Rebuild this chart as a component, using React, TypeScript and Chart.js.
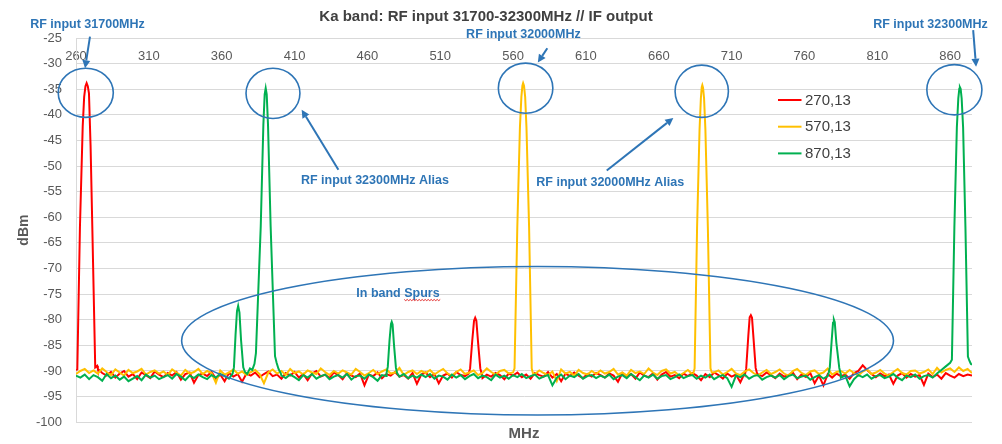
import React, { useEffect, useRef } from "react";
import { Chart, registerables } from "chart.js";

Chart.register(...registerables);

const FONT = '"Liberation Sans", Arial, sans-serif';

// ---------- data ----------
const chartTitle = "Ka band: RF input 31700-32300MHz // IF output";
const xAxisTitle = "MHz";
const yAxisTitle = "dBm";
const xMin = 260;
const xMax = 875;
const yMin = -100;
const yMax = -25;
const yStep = 5;
const xTickValues = [260, 310, 360, 410, 460, 510, 560, 610, 660, 710, 760, 810, 860];

const seriesLabels = ["270,13", "570,13", "870,13"];
const seriesColors = ["#FF0000", "#FFC000", "#00B050"];

// noise floor samples, every 3 MHz from 260 MHz
const noiseStartMHz = 260;
const noiseStepMHz = 3;

const redNoise = [
  -89.8, -90.5, -90.5, -90.5, -90.5, -89.6, -90.4, -90.9, -90.2, -91.3, -90.5, -90.0, -91.1, -90.6, -91.6, -90.3, -90.8, -91.4, -90.1, -90.7,
  -91.2, -90.4, -90.9, -90.2, -91.7, -90.6, -90.3, -92.3, -90.8, -90.5, -91.0, -90.2, -91.5, -90.7, -92.0, -90.4, -91.1, -90.6, -92.1, -90.5,
  -90.9, -90.3, -91.2, -90.6, -90.1, -91.0, -90.7, -91.5, -90.4, -90.9, -90.2, -91.3, -90.6, -91.8, -90.5, -90.0, -91.1, -90.7, -91.4, -90.3,
  -90.8, -91.6, -90.4, -90.9, -91.2, -90.5, -92.8, -90.7, -91.0, -90.3, -91.4, -90.6, -90.9, -90.2, -91.1, -90.8, -91.5, -90.4, -92.5, -90.7,
  -90.3, -91.2, -90.6, -92.4, -90.9, -90.5, -91.3, -90.2, -90.8, -91.0, -90.5, -90.9, -90.3, -91.4, -90.7, -91.1, -90.4, -90.8, -91.6, -90.5,
  -90.9, -90.3, -91.2, -90.7, -91.5, -90.4, -90.8, -91.1, -90.2, -91.3, -90.6, -92.0, -90.5, -91.0, -90.3, -90.9, -91.4, -90.6, -91.1, -90.4,
  -90.8, -91.3, -90.5, -90.9, -92.1, -90.4, -91.0, -90.6, -91.5, -90.3, -90.9, -91.2, -90.5, -91.7, -90.7, -90.2, -91.1, -90.8, -91.4, -90.5,
  -91.0, -90.4, -90.9, -91.8, -90.6, -91.2, -90.3, -90.8, -91.5, -90.5, -91.1, -90.7, -92.2, -90.4, -90.9, -91.3, -90.6, -91.0, -90.3, -90.8,
  -91.4, -90.5, -91.1, -90.8, -90.3, -91.6, -90.7, -91.2, -90.4, -92.4, -90.9, -92.8, -90.6, -91.3, -90.5, -91.0, -90.7, -91.5, -90.4, -90.0,
  -88.9, -89.8, -90.6, -91.2, -90.5, -91.0, -90.7, -92.5, -90.9, -90.4, -91.3, -90.6, -91.1, -90.8, -92.7, -90.5, -91.2, -90.7, -91.5, -90.4,
  -90.9, -91.3, -90.6, -91.0, -90.7, -90.9,
];

const yellowNoise = [
  -90.6, -90.0, -89.6, -90.4, -89.9, -90.5, -89.5, -90.2, -90.8, -89.7, -90.3, -90.9, -89.8, -90.4, -90.1, -89.6, -90.7, -90.2, -89.9, -90.5,
  -90.1, -90.8, -89.7, -90.3, -90.9, -89.8, -90.5, -90.2, -89.6, -90.6, -90.0, -90.4, -92.3, -89.9, -90.7, -90.3, -89.7, -90.5, -90.1, -90.8,
  -90.2, -89.8, -90.6, -92.4, -90.3, -89.7, -90.5, -90.0, -90.8, -89.6, -90.4, -90.1, -90.7, -89.9, -90.3, -90.6, -89.5, -90.2, -90.8, -90.0,
  -90.5, -89.9, -90.3, -90.7, -89.6, -90.2, -90.9, -90.4, -89.8, -90.6, -90.1, -89.7, -90.5, -90.3, -89.4, -90.8, -90.2, -89.9, -90.6, -90.0,
  -90.4, -89.8, -90.7, -90.1, -89.6, -90.5, -90.9, -90.2, -89.7, -90.6, -90.3, -89.9, -90.8, -90.4, -89.5, -90.2, -90.7, -90.0, -89.8, -90.5,
  -90.3, -90.5, -90.5, -90.5, -90.5, -90.6, -89.9, -90.4, -90.8, -90.1, -92.0, -89.7, -90.5, -90.2, -90.9, -89.8, -90.4, -90.7, -90.0, -90.6,
  -89.9, -90.5, -90.2, -89.6, -90.7, -90.3, -90.9, -89.8, -90.4, -90.1, -90.6, -89.5, -90.3, -90.8, -90.0, -89.7, -90.5, -90.2, -90.9, -90.4,
  -89.8, -90.6, -90.5, -90.5, -90.5, -90.5, -90.3, -89.9, -90.7, -90.2, -89.6, -90.5, -90.8, -90.1, -89.7, -90.4, -90.9, -90.3, -89.8, -90.6,
  -90.2, -89.7, -90.5, -90.9, -90.0, -89.6, -90.4, -90.8, -90.1, -89.9, -90.6, -90.3, -89.5, -90.7, -90.2, -90.0, -90.5, -89.8, -90.4, -90.9,
  -90.1, -89.7, -90.6, -90.3, -89.8, -90.5, -90.9, -90.2, -89.6, -90.4, -90.7, -90.0, -89.9, -90.5, -90.2, -89.7, -90.6, -89.4, -90.3, -89.8,
  -89.5, -90.2, -89.3, -90.0, -89.6, -90.4,
];

const greenNoise = [
  -90.9, -91.3, -90.7, -91.6, -90.8, -91.2, -91.9, -90.6, -91.4, -90.9, -91.7, -91.1, -92.0, -91.5, -91.0, -91.8, -90.7, -91.3, -90.9, -91.6,
  -91.2, -90.8, -91.5, -90.6, -91.1, -91.8, -90.9, -91.4, -90.7, -91.2, -91.6, -90.8, -91.3, -90.6, -91.0, -91.5, -90.8, -90.5, -90.5, -90.6,
  -90.5, -90.5, -90.5, -90.5, -90.5, -90.5, -90.5, -90.9, -91.4, -90.7, -91.2, -91.8, -90.8, -91.3, -90.6, -91.5, -91.0, -90.7, -91.6, -91.1,
  -90.8, -91.3, -90.6, -91.7, -91.0, -90.9, -91.5, -90.7, -91.2, -91.9, -90.8, -91.0, -90.5, -90.5, -91.1, -90.6, -91.4, -90.9, -91.3, -90.7,
  -91.2, -90.6, -91.5, -90.9, -91.1, -91.7, -90.7, -91.3, -90.8, -91.6, -91.0, -90.6, -91.4, -90.9, -91.2, -91.8, -90.7, -91.3, -90.9, -91.5,
  -90.8, -91.2, -90.6, -91.4, -91.0, -90.7, -91.5, -91.1, -90.8, -92.8, -91.3, -90.7, -91.6, -90.9, -91.2, -90.6, -91.5, -91.0, -90.8, -91.4,
  -90.9, -91.3, -90.7, -91.6, -91.1, -90.8, -91.4, -90.6, -91.2, -91.8, -90.9, -91.3, -90.7, -91.5, -91.0, -90.8, -91.6, -91.2, -90.7, -91.4,
  -91.0, -90.8, -91.5, -90.9, -91.3, -90.7, -91.6, -91.1, -90.8, -91.4, -93.1, -90.9, -91.2, -90.7, -91.5, -91.0, -90.8, -91.7, -91.2, -90.9,
  -91.3, -90.8, -91.6, -91.0, -90.7, -91.4, -91.1, -90.9, -91.7, -91.2, -90.8, -91.5, -91.0, -90.5, -90.5, -91.3, -90.9, -93.0, -91.6, -90.8,
  -91.2, -90.7, -91.5, -91.0, -90.8, -91.4, -91.1, -90.6, -91.3, -91.8, -90.9, -91.2, -90.7, -91.5, -91.0, -90.8, -91.3, -90.5, -89.8, -89.1,
  -88.4, -88.5, -88.5, -88.5, -88.5, -88.8,
];

// peaks: [MHz, dBm]
const redPeakMain = [
  [260.9, -89.7], [262.7, -62.0], [264.6, -42.3], [265.6, -36.5], [266.5, -34.4], [267.3, -33.8],
  [268.1, -34.4], [268.9, -35.8], [270.0, -46.0], [271.2, -62.0], [273.2, -89.3], [274.5, -89.0],
];
const redSpurA = [
  [529.5, -90.5], [530.5, -89.5], [532.0, -84.0], [533.2, -80.2], [534.0, -79.6], [534.8, -80.2],
  [536.0, -84.5], [537.5, -89.5], [538.5, -90.6],
];
const redSpurB = [
  [719.2, -90.6], [720.0, -89.6], [721.5, -83.0], [722.4, -79.5], [723.2, -79.1], [724.0, -79.6],
  [725.0, -83.5], [726.5, -89.4], [727.5, -90.5],
];
const yellowPeakA = [
  [560.6, -90.3], [561.0, -89.5], [562.9, -62.0], [564.7, -42.5], [565.7, -36.5], [566.4, -34.3], [566.9, -33.8],
  [567.5, -34.3], [568.3, -36.5], [569.2, -42.5], [571.0, -62.0], [572.8, -89.5], [573.6, -90.4],
];
const yellowPeakB = [
  [683.8, -90.4], [684.6, -89.5], [686.3, -62.0], [688.0, -42.8], [688.9, -36.8], [689.5, -34.6], [689.9, -34.2],
  [690.4, -34.7], [691.1, -36.8], [692.0, -42.8], [693.7, -62.0], [695.5, -89.5], [696.4, -90.3],
];
const greenAliasWithSpur = [
  [367.5, -90.5], [368.4, -89.3], [369.5, -83.0], [370.5, -78.3], [371.3, -77.3], [372.2, -78.6],
  [373.3, -84.0], [374.8, -89.3], [376.0, -90.2], [377.5, -90.6], [379.4, -89.5], [381.0, -89.8],
  [382.5, -88.6], [383.5, -86.5], [386.8, -61.8], [388.6, -42.0], [389.5, -36.0], [390.2, -34.8],
  [390.9, -36.0], [391.8, -42.0], [393.6, -61.8], [396.6, -87.1], [397.7, -88.4], [399.0, -89.6], [400.5, -90.4],
];
const greenSpurA = [
  [473.2, -90.3], [474.0, -89.2], [475.2, -84.0], [476.2, -80.8], [476.7, -80.4], [477.3, -80.9],
  [478.3, -85.0], [479.6, -89.4], [480.4, -90.4],
];
const greenSpurB = [
  [776.6, -90.4], [777.4, -89.3], [778.7, -84.0], [779.6, -80.6], [780.2, -80.0], [780.8, -80.5],
  [781.9, -84.5], [783.9, -89.4], [784.8, -90.5],
];
const greenPeakMain = [
  [861.2, -87.8], [862.9, -62.0], [864.6, -42.5], [865.6, -36.8], [866.3, -34.9], [866.7, -34.6],
  [867.2, -34.9], [867.9, -36.8], [868.9, -42.5], [870.5, -62.0], [872.2, -87.2], [873.2, -88.0], [874.2, -88.6],
];

// ---------- annotations (data coordinates) ----------
const noteBlue = "#2E75B6";
const circleNotes = [
  { f: 266.7, db: -35.7, rf: 18.9, rdb: 4.8 },
  { f: 395.2, db: -35.8, rf: 18.5, rdb: 4.9 },
  { f: 568.6, db: -34.8, rf: 18.7, rdb: 4.9 },
  { f: 689.5, db: -35.4, rf: 18.3, rdb: 5.1 },
  { f: 862.9, db: -35.1, rf: 18.9, rdb: 4.9 },
  { f: 576.8, db: -84.1, rf: 244.3, rdb: 14.5 },
];
const arrowNotes = [
  { f1: 269.6, db1: -24.75, f2: 266.2, db2: -30.9 },
  { f1: 440.1, db1: -50.7, f2: 414.9, db2: -39.0 },
  { f1: 583.5, db1: -27.0, f2: 577.0, db2: -29.8 },
  { f1: 624.3, db1: -50.85, f2: 670.0, db2: -40.6 },
  { f1: 875.8, db1: -23.45, f2: 877.8, db2: -30.6 },
];
const textNotes = [
  { text: "RF input 31700MHz", f: 267.9, db: -22.47, squiggle: "" },
  { text: "RF input 32000MHz", f: 567.1, db: -24.42, squiggle: "" },
  { text: "RF input 32300MHz", f: 846.5, db: -22.47, squiggle: "" },
  { text: "RF input 32300MHz Alias", f: 465.2, db: -52.8, squiggle: "" },
  { text: "RF input 32000MHz Alias", f: 626.7, db: -53.2, squiggle: "" },
  { text: "In band Spurs", f: 481.0, db: -74.87, squiggle: "Spurs" },
];

function buildSeries(noise: number[], peaks: number[][][]) {
  const pts: { x: number; y: number }[] = [];
  noise.forEach((v, i) => {
    const f = noiseStartMHz + i * noiseStepMHz;
    const inside = peaks.some((p) => f >= p[0][0] && f <= p[p.length - 1][0]);
    if (!inside) pts.push({ x: f, y: v });
  });
  peaks.forEach((p) => p.forEach(([f, v]) => pts.push({ x: f, y: v })));
  pts.sort((a, b) => a.x - b.x);
  return pts;
}

const notesPlugin = {
  id: "notes",
  afterDraw(chart: any) {
    const ctx = chart.ctx as CanvasRenderingContext2D;
    const xs = chart.scales.x;
    const ys = chart.scales.y;
    const px = (f: number) => xs.getPixelForValue(f);
    const py = (d: number) => ys.getPixelForValue(d);
    ctx.save();
    // legend
    const area = chart.chartArea;
    const lx = area.left + 702;
    const ly = area.top + 62;
    ctx.font = `15px ${FONT}`;
    ctx.textBaseline = "middle";
    ctx.textAlign = "left";
    seriesLabels.forEach((lab, i) => {
      const y = ly + i * 26.7;
      ctx.strokeStyle = seriesColors[i];
      ctx.lineWidth = 2;
      ctx.beginPath();
      ctx.moveTo(lx, y);
      ctx.lineTo(lx + 23.5, y);
      ctx.stroke();
      ctx.fillStyle = "#404040";
      ctx.fillText(lab, lx + 27, y + 0.5);
    });
    // circles
    ctx.strokeStyle = noteBlue;
    ctx.lineWidth = 1.6;
    circleNotes.forEach((c) => {
      const cx = px(c.f);
      const cy = py(c.db);
      const rx = Math.abs(px(c.f + c.rf) - cx);
      const ry = Math.abs(py(c.db + c.rdb) - cy);
      ctx.beginPath();
      ctx.ellipse(cx, cy, rx, ry, 0, 0, Math.PI * 2);
      ctx.stroke();
    });
    // arrows
    ctx.fillStyle = noteBlue;
    ctx.lineWidth = 2;
    arrowNotes.forEach((a) => {
      const x1 = px(a.f1), y1 = py(a.db1), x2 = px(a.f2), y2 = py(a.db2);
      const ang = Math.atan2(y2 - y1, x2 - x1);
      const head = 8, hw = 4;
      const bx = x2 - head * Math.cos(ang);
      const by = y2 - head * Math.sin(ang);
      ctx.beginPath();
      ctx.moveTo(x1, y1);
      ctx.lineTo(bx, by);
      ctx.stroke();
      ctx.beginPath();
      ctx.moveTo(x2, y2);
      ctx.lineTo(bx + hw * Math.sin(ang), by - hw * Math.cos(ang));
      ctx.lineTo(bx - hw * Math.sin(ang), by + hw * Math.cos(ang));
      ctx.closePath();
      ctx.fill();
    });
    // texts
    ctx.font = `bold 12.5px ${FONT}`;
    ctx.textAlign = "center";
    ctx.textBaseline = "middle";
    textNotes.forEach((t) => {
      const x = px(t.f), y = py(t.db);
      ctx.fillStyle = noteBlue;
      ctx.fillText(t.text, x, y);
      if (t.squiggle) {
        const full = ctx.measureText(t.text).width;
        const idx = t.text.indexOf(t.squiggle);
        const pre = ctx.measureText(t.text.slice(0, idx)).width;
        const w = ctx.measureText(t.squiggle).width;
        const sx = x - full / 2 + pre;
        const sy = y + 6;
        ctx.strokeStyle = "#E03030";
        ctx.lineWidth = 1;
        ctx.beginPath();
        for (let k = 0; k <= Math.ceil(w / 1.5); k++) {
          const xx = sx + k * 1.5;
          const yy = sy + (k % 2 === 0 ? 0 : 1.2);
          if (k === 0) ctx.moveTo(xx, yy);
          else ctx.lineTo(xx, yy);
        }
        ctx.stroke();
      }
    });
    ctx.restore();
  },
};

export default function App() {
  const ref = useRef<HTMLCanvasElement>(null);
  useEffect(() => {
    const canvas = ref.current!;
    const series = [
      buildSeries(redNoise, [redPeakMain, redSpurA, redSpurB]),
      buildSeries(yellowNoise, [yellowPeakA, yellowPeakB]),
      buildSeries(greenNoise, [greenAliasWithSpur, greenSpurA, greenSpurB, greenPeakMain]),
    ];
    const chart = new Chart(canvas, {
      type: "line",
      data: {
        datasets: series.map((d, i) => ({
          label: seriesLabels[i],
          data: d,
          borderColor: seriesColors[i],
          backgroundColor: seriesColors[i],
          borderWidth: 2,
          pointRadius: 0,
          tension: 0,
          fill: false,
          order: 2 - i,
        })),
      },
      options: {
        animation: false,
        responsive: false,
        layout: { padding: { left: 0, right: 30, top: 0, bottom: 0 } },
        plugins: {
          legend: { display: false },
          tooltip: { enabled: false },
          title: {
            display: true,
            text: chartTitle,
            color: "#404040",
            font: { family: FONT, size: 15, weight: "bold" },
            padding: { top: 8, bottom: 12 },
          },
        },
        scales: {
          x: {
            type: "linear",
            min: xMin,
            max: xMax,
            position: { y: yMax },
            grid: { display: false, drawTicks: false },
            border: { display: false },
            ticks: { color: "#595959", font: { family: FONT, size: 13 }, padding: 11, maxRotation: 0, autoSkip: false },
            afterBuildTicks: (s: any) => {
              s.ticks = xTickValues.map((v) => ({ value: v }));
            },
          },
          x2: {
            type: "linear",
            position: "bottom",
            min: xMin,
            max: xMax,
            grid: { display: false, drawTicks: false },
            border: { display: false },
            ticks: { display: false },
            title: {
              display: true,
              text: xAxisTitle,
              color: "#595959",
              font: { family: FONT, size: 15, weight: "bold" },
              padding: { top: 0, bottom: 0 },
            },
            afterFit: (s: any) => {
              s.height = 21;
            },
          },
          y: {
            type: "linear",
            min: yMin,
            max: yMax,
            ticks: { stepSize: yStep, color: "#595959", font: { family: FONT, size: 13 }, padding: 14 },
            grid: { color: "#D9D9D9", drawTicks: false, lineWidth: 1 },
            border: { display: true, color: "#D9D9D9" },
            title: {
              display: true,
              text: yAxisTitle,
              color: "#595959",
              font: { family: FONT, size: 14, weight: "bold" },
              padding: { top: 15.6, bottom: 0 },
            },
            afterFit: (s: any) => {
              s.width = 76;
            },
          },
        },
      } as any,
      plugins: [notesPlugin],
    });
    return () => chart.destroy();
  }, []);
  return (
    <div style={{ position: "fixed", left: 0, top: 0, width: 1002, height: 444, background: "#fff" }}>
      <canvas ref={ref} width={1002} height={444} style={{ display: "block", width: 1002, height: 444 }} />
    </div>
  );
}
